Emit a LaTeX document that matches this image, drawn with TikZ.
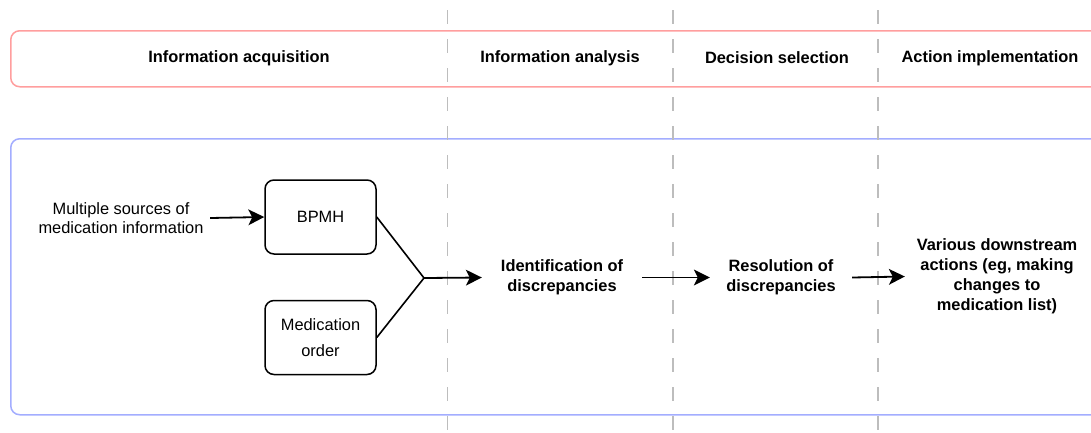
\documentclass[tikz,border=0pt]{standalone}
\usepackage{fontspec}
\setmainfont{Liberation Sans}
\usetikzlibrary{arrows.meta}
\definecolor{lanered}{HTML}{FF9E9E}
\definecolor{laneblue}{HTML}{A3ADFF}
\definecolor{sepgray}{HTML}{BDBDBD}
\tikzset{
  lane/.style={draw, line width=1.5pt, rounded corners=9pt},
  hdr/.style={font=\fontsize{16.4}{19.5}\selectfont\bfseries, align=center},
  plain/.style={font=\fontsize{16.4}{19.5}\selectfont, align=center, inner sep=0pt},
  boldtxt/.style={font=\fontsize{16.4}{20}\selectfont\bfseries, align=center, inner sep=0pt},
  stepbox/.style={draw, line width=1.5pt, rounded corners=9pt, minimum width=111pt, minimum height=74pt, font=\fontsize{16.4}{26}\selectfont, align=center, inner sep=0pt},
  sep/.style={draw=sepgray, line width=1.6pt, dash pattern=on 14pt off 15pt},
  arr/.style={line width=1.8pt, -{Stealth[length=16pt, width=16pt, inset=4pt, line width=0pt]}},
  link/.style={line width=1.6pt},
}
\begin{document}
\begin{tikzpicture}[x=1pt, y=-1pt]
\useasboundingbox (0,0) rectangle (1091,432);
\clip (0,0) rectangle (1091,432);
% lanes
\node[lane, draw=lanered, minimum width=1090pt, minimum height=56pt, anchor=north west, inner sep=0pt] (toplane) at (10,30) {};
\node[lane, draw=laneblue, minimum width=1090pt, minimum height=276pt, anchor=north west, inner sep=0pt] (botlane) at (10,138) {};
% separators
\foreach \x/\n in {447.5/s1, 673/s2, 878/s3} {
  \coordinate (\n a) at (\x,10);
  \coordinate (\n b) at (\x,432);
  \draw[sep] (\n a) -- (\n b);
}
% headers
\node[hdr] (h1) at (239,58) {Information acquisition};
\node[hdr] (h2) at (560,58) {Information analysis};
\node[hdr] (h3) at (777,58) {Decision selection};
\node[hdr] (h4) at (990,58) {Action implementation};
% content
\node[plain, minimum width=178pt] (src) at (121,218) {Multiple sources of\\medication information};
\node[stepbox, fill=white] (bpmh) at (320.5,217) {BPMH};
\node[stepbox, fill=white] (med) at (320.5,337.5) {Medication\\order};
\coordinate (j) at (424,278);
\node[boldtxt, minimum width=160pt] (ident) at (562,277.5) {Identification of\\discrepancies};
\node[boldtxt, minimum width=142pt] (resol) at (781,277.5) {Resolution of\\discrepancies};
\node[boldtxt, minimum width=184pt] (var) at (997,276.5) {Various downstream\\actions (eg, making\\changes to\\medication list)};
% connectors
\draw[arr] (src.east) -- (bpmh.west);
\draw[link] (bpmh.east) -- (j);
\draw[link] (med.east) -- (j);
\draw[arr] (j) -- (ident.west);
\draw[arr] (ident.east) -- (resol.west);
\draw[arr] (resol.east) -- (var.west);
\end{tikzpicture}
\end{document}
